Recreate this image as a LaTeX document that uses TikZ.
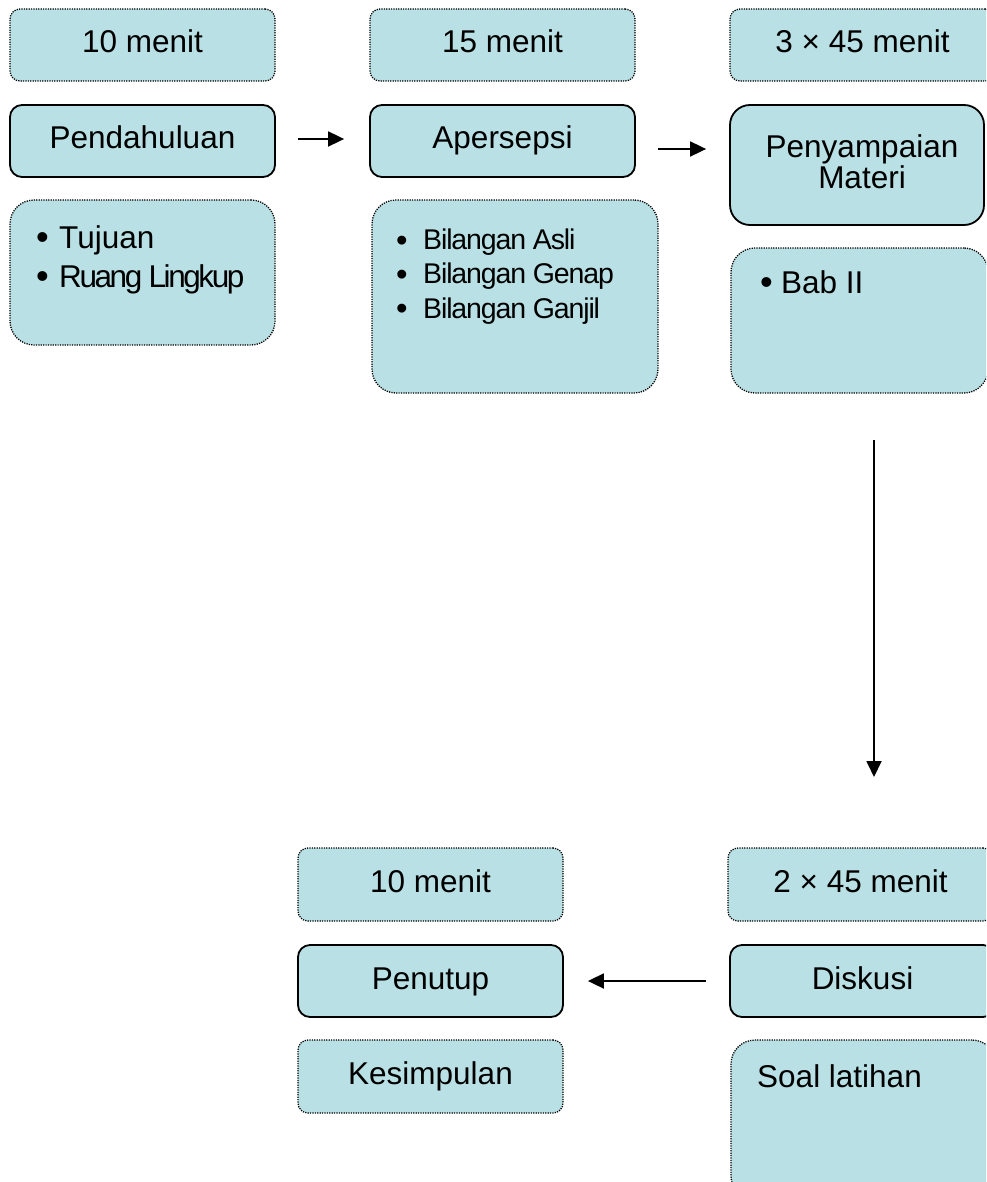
\documentclass[tikz,border=0pt]{standalone}
\usepackage{fontspec}
\usepackage{graphicx}
\setmainfont{Liberation Sans}
\newfontfamily\condA[LetterSpace=-7.7]{Liberation Sans}
\newfontfamily\condB[LetterSpace=-4.0]{Liberation Sans}
\usetikzlibrary{arrows.meta}
\definecolor{boxfill}{RGB}{185,224,228}
\newcommand\bigdot{\raisebox{-1.5pt}{\scalebox{1.15}{•}}}
\newcommand\bulA{\makebox[23pt][l]{\bigdot}}
\newcommand\bulB{\makebox[27pt][l]{\bigdot}}
\begin{document}
\begin{tikzpicture}[x=1pt,y=-1pt,
  basebox/.style={draw=black, fill=boxfill, inner sep=0pt, text height=22pt, text depth=6pt, font=\fontsize{31.5}{36}\selectfont},
  timebox/.style={basebox, rounded corners=10pt, line width=1.3pt, dash pattern=on 1.2pt off 1.2pt},
  mainbox/.style={basebox, rounded corners=12pt, line width=1.8pt},
  listbox/.style={basebox, rounded corners=24pt, line width=1.3pt, dash pattern=on 1.2pt off 1.2pt},
  txt/.style={inner sep=0pt, font=\fontsize{31.5}{39}\selectfont},
  arr/.style={line width=1.8pt, -{Triangle[length=16pt,width=15pt]}}]
\useasboundingbox (0,0) rectangle (986,1182);
\clip (0,0) rectangle (986,1182);
% top row: time boxes
\node[timebox, minimum width=265pt, minimum height=72pt] (t1) at (142.5,45) {10 menit};
\node[timebox, minimum width=265pt, minimum height=72pt] (t2) at (502.5,45) {15 menit};
\node[timebox, minimum width=265pt, minimum height=72pt] (t3) at (862.5,45) {3 × 45 menit};
% main boxes
\node[mainbox, minimum width=265pt, minimum height=72pt] (pend) at (142.5,141) {Pendahuluan};
\node[mainbox, minimum width=265pt, minimum height=72pt] (aper) at (502.5,141) {Apersepsi};
\node[mainbox, rounded corners=20pt, minimum width=254pt, minimum height=120pt] (peny) at (857,165) {};
\node[txt, align=center, font=\fontsize{31.5}{31}\selectfont] (penytext) at (862,162) {Penyampaian\\Materi};
% list boxes
\node[listbox, minimum width=265pt, minimum height=145pt] (b1) at (142.5,272.5) {};
\node[listbox, minimum width=286pt, minimum height=193pt] (b2) at (515,296.5) {};
\node[listbox, minimum width=257pt, minimum height=145pt] (b3) at (859.5,320.5) {};
\node[txt, anchor=base west] (l1) at (36,248) {\begin{tabular}[t]{@{}l@{}}\bulA Tujuan\\\bulA{\condA Ruang Lingkup}\end{tabular}};
\node[txt, anchor=base west, font=\fontsize{28.5}{34}\selectfont] (l2) at (396,250) {\begin{tabular}[t]{@{}l@{}}\bulB{\condB Bilangan Asli}\\\bulB{\condB Bilangan Genap}\\\bulB{\condB Bilangan Ganjil}\end{tabular}};
\node[txt, anchor=base west] (l3) at (760,293) {\makebox[21pt][l]{\bigdot}Bab II};
% bottom row
\node[timebox, minimum width=265pt, minimum height=73pt] (t4) at (430.5,884.5) {10 menit};
\node[timebox, minimum width=265pt, minimum height=73pt] (t5) at (860.5,884.5) {2 × 45 menit};
\node[mainbox, minimum width=265pt, minimum height=72pt] (pen) at (430.5,981) {Penutup};
\node[mainbox, minimum width=265pt, minimum height=72pt] (disk) at (862.5,981) {Diskusi};
\node[timebox, minimum width=265pt, minimum height=73pt] (kes) at (430.5,1076.5) {Kesimpulan};
\node[listbox, minimum width=265pt, minimum height=160pt] (soal) at (863.5,1120) {};
\node[txt, anchor=base west] (l4) at (757,1087) {Soal latihan};
% connectors
\coordinate (v1) at (874,440);
\coordinate (v2) at (874,777);
\draw[arr] ([xshift=22pt,yshift=2pt]pend.east) -- ([xshift=-25pt,yshift=2pt]aper.west);
\draw[arr] ([xshift=22pt,yshift=-8pt]aper.east) -- ([xshift=-23pt,yshift=16pt]peny.west);
\draw[arr] (v1) -- (v2);
\draw[arr] ([xshift=-23pt]disk.west) -- ([xshift=24pt]pen.east);
\end{tikzpicture}
\end{document}
